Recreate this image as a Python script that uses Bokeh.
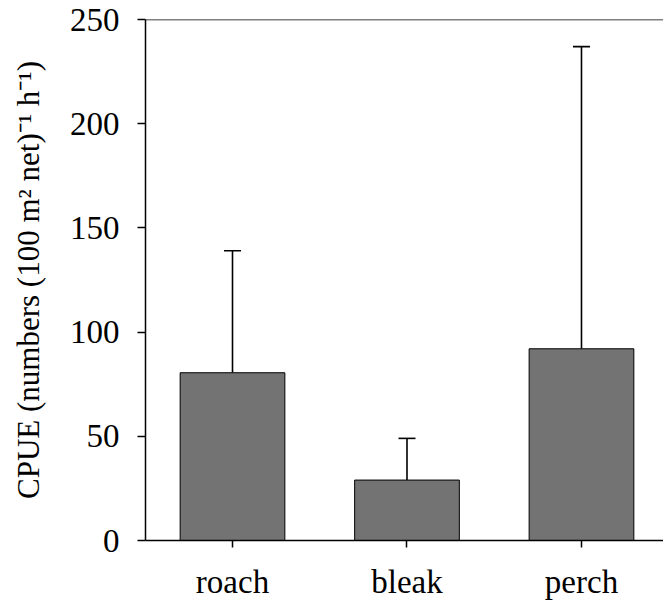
from bokeh.plotting import figure
from bokeh.models import (Range1d, FixedTicker, Whisker, TeeHead, Span,
                          ColumnDataSource)
from bokeh.embed import file_html
from bokeh.resources import INLINE

# ---- data ----
categories = ["roach", "bleak", "perch"]
cpue_mean = [80.5, 29.0, 92.0]
cpue_upper = [139.0, 49.0, 237.0]
y_ticks = [0, 50, 100, 150, 200, 250]

positions = list(range(1, len(categories) + 1))
src = ColumnDataSource(dict(x=positions, mean=cpue_mean, upper=cpue_upper))

FONT = "Liberation Serif"

p = figure(width=663, height=602, output_backend="svg", toolbar_location=None,
           x_range=Range1d(0.5014, 3.47), y_range=Range1d(0, 250),
           min_border_left=145, min_border_top=19, min_border_bottom=62,
           min_border_right=0)
p.outline_line_color = None
p.grid.grid_line_color = None
p.background_fill_color = "white"

p.vbar(x="x", top="mean", width=0.6, source=src, fill_color="#737373",
       line_color="black", line_width=1)

w = Whisker(base="x", upper="upper", lower="mean", source=src,
            line_color="black", line_width=1.6,
            upper_head=TeeHead(size=17, line_color="black", line_width=1.6),
            lower_head=None)
p.add_layout(w)

p.add_layout(Span(location=250, dimension="width", line_color="black",
                  line_width=1.5))

# y axis
ya = p.yaxis[0]
ya.ticker = FixedTicker(ticks=y_ticks)
ya.minor_tick_line_color = None
ya.major_tick_in = 0
ya.major_tick_out = 8
ya.major_tick_line_width = 1.5
ya.axis_line_width = 1.5
ya.major_label_text_font = FONT
ya.major_label_text_font_size = "33px"
ya.major_label_text_color = "black"
ya.major_label_standoff = 18
ya.axis_label = "CPUE (numbers (100 m² net)⁻¹ h⁻¹)"
ya.axis_label_text_font = FONT
ya.axis_label_text_font_size = "31px"
ya.axis_label_text_font_style = "normal"
ya.axis_label_text_color = "black"
ya.axis_label_standoff = 21

# x axis with category names
xa = p.xaxis[0]
xa.ticker = FixedTicker(ticks=positions)
xa.major_label_overrides = {pos: name for pos, name in zip(positions, categories)}
xa.minor_tick_line_color = None
xa.major_tick_in = 0
xa.major_tick_out = 7
xa.major_tick_line_width = 1.5
xa.axis_line_width = 1.5
xa.major_label_text_font = FONT
xa.major_label_text_font_size = "33px"
xa.major_label_text_color = "black"
xa.major_label_standoff = 16

open("out.html", "w").write(file_html(p, INLINE))
